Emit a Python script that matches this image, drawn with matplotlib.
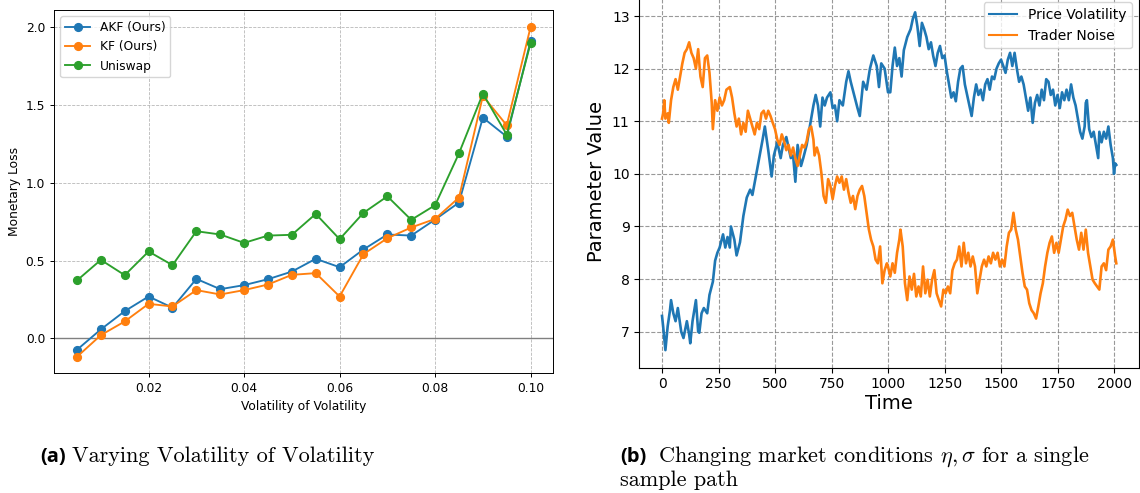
import matplotlib
matplotlib.use("Agg")
import matplotlib.pyplot as plt

# ---------------- data: panel (a) ----------------
vol_of_vol = [0.005, 0.010, 0.015, 0.020, 0.025, 0.030, 0.035, 0.040, 0.045, 0.050,
              0.055, 0.060, 0.065, 0.070, 0.075, 0.080, 0.085, 0.090, 0.095, 0.100]
akf_loss = [-0.073, 0.058, 0.175, 0.269, 0.197, 0.382, 0.316, 0.342, 0.380, 0.429,
            0.511, 0.457, 0.571, 0.667, 0.660, 0.763, 0.872, 1.417, 1.295, 1.910]
kf_loss = [-0.118, 0.021, 0.109, 0.222, 0.205, 0.310, 0.282, 0.310, 0.346, 0.408,
           0.419, 0.269, 0.541, 0.643, 0.712, 0.767, 0.904, 1.556, 1.368, 2.000]
uniswap_loss = [0.372, 0.504, 0.406, 0.558, 0.470, 0.688, 0.667, 0.613, 0.660, 0.665,
                0.799, 0.637, 0.806, 0.912, 0.761, 0.855, 1.188, 1.571, 1.308, 1.897]

# ---------------- data: panel (b) ----------------
t_price = [0, 5, 15, 25, 35, 40, 50, 60, 70, 85, 95, 110, 120, 125, 135, 150, 160, 165, 175, 185,
           200, 210, 225, 235, 245, 255, 270, 280, 290, 300, 305, 320, 330, 345, 360, 375, 390, 400,
           415, 430, 445, 455, 470, 485, 495, 510, 525, 535, 550, 560, 570, 580, 590, 600, 615, 625,
           640, 650, 660, 670, 680, 690, 700, 710, 720, 730, 745, 755, 765, 775, 785, 800, 815, 825,
           835, 850, 865, 875, 890, 905, 920, 935, 950, 960, 970, 985, 1000,
           1010, 1020, 1030, 1040, 1050, 1060, 1070, 1085, 1100, 1110, 1120, 1130, 1140, 1150, 1160,
           1170, 1180, 1190, 1200, 1210, 1220, 1230, 1240, 1250, 1260, 1270, 1280, 1290, 1300, 1310,
           1320, 1330, 1340, 1350, 1360, 1370, 1380, 1390, 1400, 1410, 1420, 1430, 1440, 1450, 1460,
           1470, 1480, 1490, 1500, 1510, 1520, 1530, 1540, 1550, 1560, 1570, 1580, 1590, 1600, 1610,
           1620, 1630, 1640, 1650, 1660, 1670, 1680, 1690, 1700, 1710, 1720, 1730, 1740, 1750, 1760,
           1770, 1780, 1790, 1800, 1810, 1820, 1830, 1840, 1850, 1860, 1870, 1875, 1880, 1890, 1900,
           1910, 1920, 1930, 1935, 1945, 1955, 1965, 1975, 1985, 1995, 2000, 2005, 2010]
price_vol = [7.30, 7.10, 6.65, 7.10, 7.40, 7.60, 7.35, 7.20, 7.45, 7.00, 6.88, 7.20, 6.95, 6.78, 7.20,
             7.60, 7.00, 6.98, 7.35, 7.45, 7.35, 7.70, 7.95, 8.35, 8.50, 8.60, 8.85, 8.60, 8.80, 8.60,
             9.00, 8.75, 8.45, 8.70, 9.20, 9.55, 9.70, 9.60, 9.95, 10.30, 10.65, 10.90, 10.45, 9.95,
             10.35, 10.60, 10.30, 10.55, 10.70, 10.50, 10.30, 10.35, 9.85, 10.55, 10.15, 10.30, 10.55,
             10.80, 11.05, 11.30, 11.50, 11.30, 10.90, 11.45, 11.30, 11.45, 11.55, 11.25, 11.30, 11.00,
             11.40, 11.30, 11.75, 11.95, 11.75, 11.50, 11.25, 11.10, 11.75, 11.60, 12.00, 12.25, 12.05,
             11.65, 12.10, 12.00, 11.55,
             11.55, 12.05, 12.40, 12.05, 12.20, 11.85, 12.35, 12.60, 12.75, 12.95, 13.07, 12.80, 12.43,
             12.87, 12.75, 12.60, 12.37, 12.50, 12.24, 12.05, 12.30, 12.43, 12.20, 12.25, 11.95, 11.70,
             11.45, 11.55, 11.38, 11.75, 12.00, 12.05, 11.70, 11.50, 11.30, 11.10, 11.45, 11.70, 11.50,
             11.60, 11.40, 11.70, 11.80, 11.60, 11.85, 11.80, 12.00, 12.10, 12.17, 12.05, 11.92, 12.17,
             12.30, 12.05, 12.30, 12.00, 11.75, 11.85, 11.70, 11.45, 11.20, 11.45, 10.97, 11.35, 11.50,
             11.30, 11.60, 11.40, 11.80, 11.75, 11.50, 11.60, 11.30, 11.50, 11.25, 11.55, 11.40, 11.60,
             11.40, 11.70, 11.45, 11.30, 11.05, 10.80, 10.67, 10.90, 11.35, 11.40, 10.85, 10.70, 10.80,
             10.55, 10.30, 10.80, 10.60, 10.80, 10.67, 10.90, 10.55, 10.30, 10.00, 10.20, 10.17]

t_noise = [0, 5, 10, 15, 25, 30, 40, 50, 60, 70, 80, 90, 100, 110, 120, 130, 140, 150, 160, 170,
           180, 190, 200, 210, 220, 225, 235, 245, 255, 265, 275, 285, 300, 310, 320, 330, 340, 350,
           360, 370, 380, 390, 400, 410, 420, 430, 440, 450, 460, 470, 480, 490, 500, 510, 520, 530,
           540, 550, 560, 570, 580, 590, 600, 610, 620, 630, 640, 650, 660, 670, 675, 685, 695, 705,
           715, 725, 735, 745, 755, 765, 775, 785, 795, 805, 815, 825, 835, 845, 855, 865, 875, 885,
           895, 905, 915, 925, 935, 945, 955, 965, 975, 985, 995,
           1000, 1010, 1020, 1030, 1040, 1050, 1055, 1065, 1075, 1085, 1095, 1105, 1115, 1125, 1135,
           1145, 1155, 1165, 1175, 1185, 1195, 1205, 1215, 1225, 1235, 1245, 1255, 1265, 1275, 1285,
           1295, 1305, 1315, 1325, 1335, 1345, 1355, 1365, 1375, 1385, 1395, 1405, 1415, 1425, 1435,
           1445, 1455, 1465, 1475, 1485, 1495, 1505, 1515, 1525, 1535, 1545, 1555, 1565, 1575, 1585,
           1595, 1605, 1615, 1625, 1635, 1645, 1655, 1665, 1675, 1685, 1695, 1705, 1715, 1725, 1735,
           1745, 1755, 1765, 1775, 1785, 1795, 1805, 1815, 1825, 1835, 1845, 1855, 1865, 1875, 1885,
           1895, 1905, 1915, 1925, 1935, 1945, 1955, 1965, 1975, 1985, 1995, 2005, 2010]
trader_noise = [11.05, 11.15, 11.40, 11.05, 11.15, 10.97, 11.40, 11.65, 11.80, 11.60, 11.85, 12.10,
                12.30, 12.37, 12.50, 12.30, 12.20, 12.00, 12.37, 11.85, 11.65, 12.20, 12.25, 11.92,
                11.35, 10.85, 11.40, 11.20, 11.45, 11.30, 11.40, 11.60, 11.65, 11.45, 11.15, 10.90,
                11.05, 10.75, 10.97, 10.80, 11.20, 11.05, 10.90, 10.75, 10.97, 10.85, 11.15, 11.20,
                11.05, 11.20, 11.10, 10.97, 10.85, 10.65, 10.55, 10.75, 10.62, 10.45, 10.55, 10.35,
                10.50, 10.30, 10.15, 10.35, 10.55, 10.50, 10.62, 10.85, 10.90, 10.65, 10.35, 10.50,
                10.35, 10.02, 9.58, 9.45, 9.90, 9.77, 9.52, 9.77, 9.95, 9.83, 9.95, 9.70, 9.90, 9.65,
                9.45, 9.58, 9.33, 9.58, 9.70, 9.77, 9.58, 9.27, 8.95, 8.75, 8.62, 8.37, 8.30, 8.62,
                7.92, 8.17, 8.30,
                8.24, 8.05, 8.30, 8.12, 8.50, 8.75, 8.94, 8.62, 7.92, 7.60, 8.05, 7.80, 8.10, 7.67,
                7.86, 7.67, 8.24, 7.73, 7.99, 7.67, 7.99, 8.17, 7.73, 7.60, 7.48, 7.80, 7.73, 7.86,
                7.73, 8.17, 8.30, 8.37, 8.62, 8.24, 8.69, 8.30, 8.50, 8.24, 8.43, 8.24, 7.73, 7.99,
                8.24, 8.37, 8.24, 8.43, 8.30, 8.50, 8.37, 8.50, 8.24, 8.37, 8.24, 8.62, 8.88, 8.94,
                9.26, 8.94, 8.75, 8.43, 8.12, 7.86, 7.80, 7.54, 7.41, 7.35, 7.25, 7.48, 7.73, 7.92,
                8.24, 8.50, 8.69, 8.81, 8.50, 8.69, 8.50, 8.75, 9.00, 9.13, 9.32, 9.20, 9.26, 9.00,
                8.75, 8.56, 8.88, 8.56, 8.94, 8.50, 8.24, 7.99, 7.92, 7.86, 7.80, 8.24, 8.30, 8.17,
                8.56, 8.62, 8.75, 8.43, 8.30]

series_labels_a = ["AKF (Ours)", "KF (Ours)", "Uniswap"]
series_labels_b = ["Price Volatility", "Trader Noise"]
caption_a = "Varying Volatility of Volatility"
caption_b_line1 = r"Changing market conditions $\eta,\sigma$ for a single"
caption_b_line2 = "sample path"

# ---------------- figure ----------------
plt.rcParams["mathtext.fontset"] = "cm"
W, H = 1140, 493
fig = plt.figure(figsize=(W / 100, H / 100), dpi=100)

def frac(l, t, r, b):
    return [l / W, 1 - b / H, (r - l) / W, (b - t) / H]

blue, orange, green = "#1f77b4", "#ff7f0e", "#2ca02c"

# ---- panel (a)
ax1 = fig.add_axes(frac(54.3, 10.3, 553.3, 373.3))
fs_a = 8.8
ax1.axhline(0, color="gray", lw=1.0, zorder=1)
ax1.plot(vol_of_vol, akf_loss, "-o", color=blue, lw=1.35, ms=5.6, label=series_labels_a[0], zorder=3)
ax1.plot(vol_of_vol, kf_loss, "-o", color=orange, lw=1.35, ms=5.6, label=series_labels_a[1], zorder=3)
ax1.plot(vol_of_vol, uniswap_loss, "-o", color=green, lw=1.35, ms=5.6, label=series_labels_a[2], zorder=3)
ax1.set_xticks([0.02, 0.04, 0.06, 0.08, 0.10])
ax1.set_xticklabels(["0.02", "0.04", "0.06", "0.08", "0.10"])
ax1.set_yticks([0.0, 0.5, 1.0, 1.5, 2.0])
ax1.tick_params(labelsize=fs_a, length=3.1, width=0.7)
ax1.set_xlabel("Volatility of Volatility", fontsize=fs_a, labelpad=3)
ax1.set_ylabel("Monetary Loss", fontsize=fs_a, labelpad=3)
ax1.grid(True, linestyle="--", color="#b0b0b0", lw=0.6, alpha=0.9, zorder=0)
ax1.set_axisbelow(True)
for s in ax1.spines.values():
    s.set_linewidth(0.7)
ax1.legend(loc="upper left", fontsize=fs_a)

# ---- panel (b)
ax2 = fig.add_axes(frac(639.3, -4.5, 1139.0, 367.7))
ax2.plot(t_price, price_vol, color=blue, lw=1.9, label=series_labels_b[0])
ax2.plot(t_noise, trader_noise, color=orange, lw=1.9, label=series_labels_b[1])
ax2.set_xlim(-100.5, 2110.5)
ax2.set_ylim(6.316, 13.39)
ax2.set_xticks([0, 250, 500, 750, 1000, 1250, 1500, 1750, 2000])
ax2.set_yticks([7, 8, 9, 10, 11, 12, 13])
ax2.tick_params(labelsize=10)
ax2.set_xlabel("Time", fontsize=14, labelpad=2)
ax2.set_ylabel("Parameter Value", fontsize=14, labelpad=4)
ax2.grid(True, linestyle="--", color="gray", lw=0.8, alpha=0.8)
leg = ax2.legend(loc="upper right", fontsize=10)
for ln in leg.get_lines():
    ln.set_linewidth(1.5)

# ---- captions
cap_fs = 16.0
bold_fs = 14.5
fig.text(40 / W, 1 - 462 / H, "(a)", fontsize=bold_fs, fontweight="bold",
         family=["Open Sans", "DejaVu Sans"], va="baseline", ha="left")
fig.text(72 / W, 1 - 462 / H, caption_a, fontsize=cap_fs, family=["cmr10", "DejaVu Serif"],
         va="baseline", ha="left")
fig.text(620 / W, 1 - 462 / H, "(b)", fontsize=bold_fs, fontweight="bold",
         family=["Open Sans", "DejaVu Sans"], va="baseline", ha="left")
fig.text(658 / W, 1 - 462 / H, caption_b_line1, fontsize=cap_fs, family=["cmr10", "DejaVu Serif"],
         va="baseline", ha="left")
fig.text(620 / W, 1 - 486 / H, caption_b_line2, fontsize=cap_fs, family=["cmr10", "DejaVu Serif"],
         va="baseline", ha="left")

fig.savefig("out.png", dpi=100)
